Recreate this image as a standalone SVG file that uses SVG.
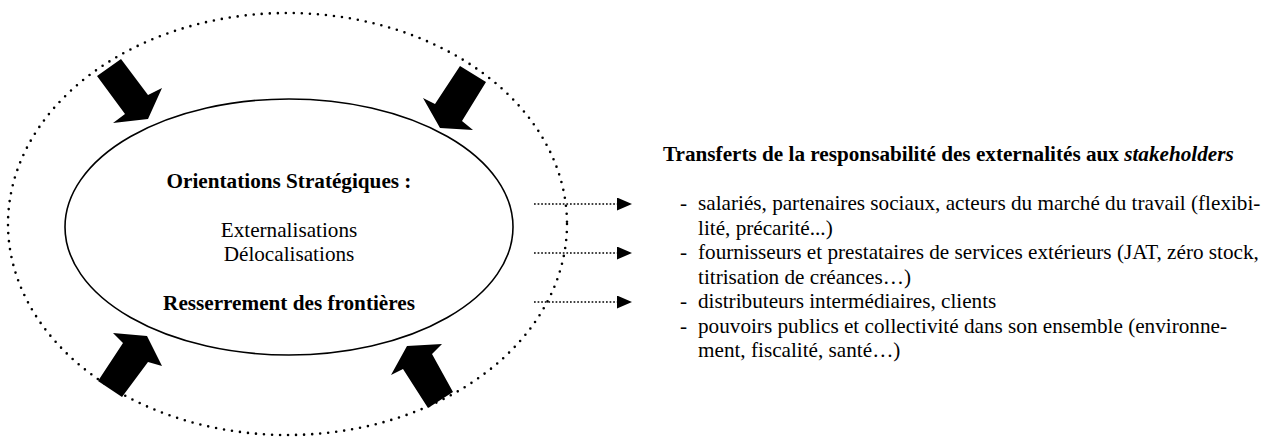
<svg xmlns="http://www.w3.org/2000/svg" width="1277" height="446" viewBox="0 0 1277 446">
<style>
text { font-family: "Liberation Serif", "Times New Roman", serif; font-size: 21.2px; fill: #000; }
.b { font-weight: bold; }
.c { text-anchor: middle; }
.dotted-ring { fill: none; stroke: #000; stroke-width: 2.6; stroke-linecap: round; stroke-dasharray: 0 8.05; }
.core { fill: #fff; stroke: #000; stroke-width: 1.6; }
.flow { fill: none; stroke: #000; stroke-width: 1.7; stroke-dasharray: 1.7 1.9; }
.push { fill: #000; stroke: none; }
</style>
<defs>
<marker id="head" markerUnits="userSpaceOnUse" markerWidth="15" markerHeight="13" refX="0" refY="6.5" orient="auto">
<path d="M0,0 L15,6.5 L0,13 Z" fill="#000"/>
</marker>
</defs>
<g id="environment">
<ellipse class="dotted-ring" cx="287.5" cy="224" rx="279.5" ry="211"/>
</g>
<g id="firm">
<ellipse class="core" cx="289" cy="227" rx="224" ry="128"/>
<text class="b c" x="289" y="188">Orientations Stratégiques :</text>
<text class="c" x="289" y="237">Externalisations</text>
<text class="c" x="289" y="261">Délocalisations</text>
<text class="b c" x="289" y="310">Resserrement des frontières</text>
</g>
<g id="stakeholders">
<text class="b" x="663" y="161">Transferts de la responsabilité des externalités aux <tspan font-style="italic">stakeholders</tspan></text>
<text x="680" y="210">-</text><text x="698" y="210">salariés, partenaires sociaux, acteurs du marché du travail (flexibi-</text>
<text x="698" y="234.5">lité, précarité...)</text>
<text x="680" y="259">-</text><text x="698" y="259">fournisseurs et prestataires de services extérieurs (JAT, zéro stock,</text>
<text x="698" y="283.5">titrisation de créances…)</text>
<text x="680" y="308">-</text><text x="698" y="308">distributeurs intermédiaires, clients</text>
<text x="680" y="332.5">-</text><text x="698" y="332.5">pouvoirs publics et collectivité dans son ensemble (environne-</text>
<text x="698" y="357">ment, fiscalité, santé…)</text>
</g>
<g id="connectors">
<line class="flow" x1="534" y1="204" x2="617" y2="204" marker-end="url(#head)"/>
<line class="flow" x1="534" y1="253" x2="617" y2="253" marker-end="url(#head)"/>
<line class="flow" x1="534" y1="302" x2="617" y2="302" marker-end="url(#head)"/>
<polygon class="push" points="97,76 121,59 148,95 162,88 148,119 113,123 125,114"/>
<polygon class="push" points="460,66 486,82 462,121 473,130 440,128 423,98 435,104"/>
<polygon class="push" points="98,381 122,397 148,362 162,366 147,336 113,333 123,343"/>
<polygon class="push" points="453,392 428,408 403,369 391,375 407,346 442,344 432,354"/>
</g>
</svg>
